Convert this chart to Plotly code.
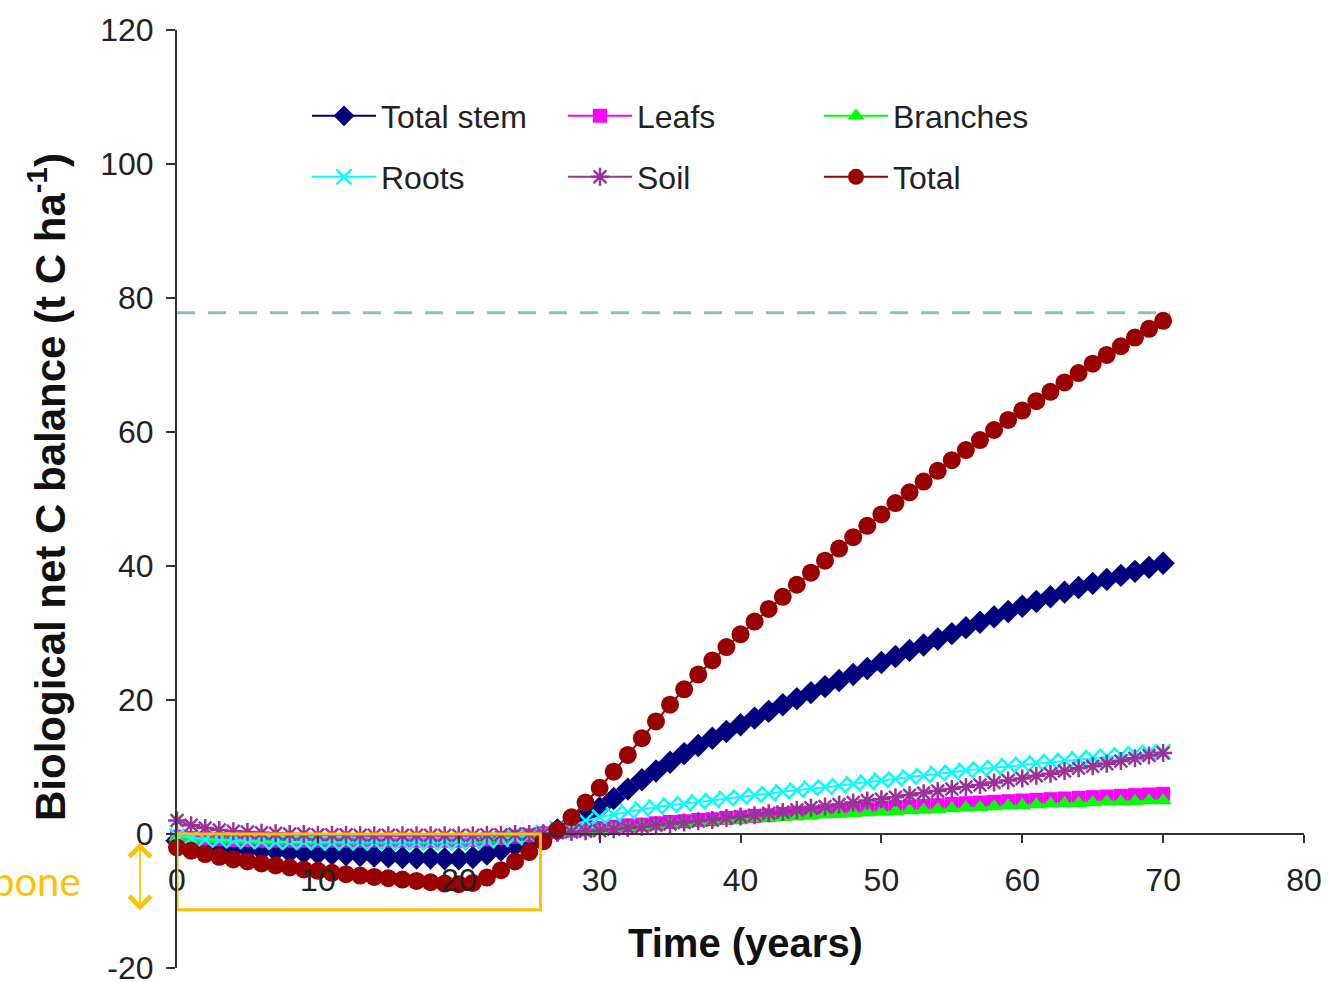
import plotly.graph_objects as go

# Years of the simulation (annual steps)
years = list(range(0, 71))

total_stem = [
    -1.0, -1.3, -1.6, -1.8, -2.0, -2.2, -2.4, -2.5, -2.7, -2.8,
    -2.9, -3.0, -3.1, -3.2, -3.3, -3.4, -3.5, -3.6, -3.6, -3.7,
    -3.7, -3.5, -3.0, -2.4, -1.7, -1.0, -0.3, 0.6, 1.6, 2.7,
    3.9, 5.3, 6.7, 8.1, 9.4, 10.7, 12.0, 13.2, 14.3, 15.3,
    16.3, 17.3, 18.3, 19.3, 20.2, 21.1, 22.0, 22.9, 23.8, 24.7,
    25.6, 26.5, 27.4, 28.2, 29.1, 29.9, 30.8, 31.6, 32.4, 33.2,
    34.0, 34.7, 35.4, 36.1, 36.8, 37.4, 38.0, 38.6, 39.2, 39.8,
    40.4,
]

leafs = [
    -0.4, -0.6, -0.7, -0.8, -0.9, -0.9, -1.0, -1.0, -1.0, -1.0,
    -1.0, -1.0, -1.0, -1.0, -1.0, -1.0, -1.0, -1.0, -1.0, -1.0,
    -1.0, -0.9, -0.8, -0.6, -0.4, -0.2, 0.1, 0.3, 0.5, 0.7,
    0.9, 1.1, 1.3, 1.4, 1.6, 1.8, 1.9, 2.1, 2.2, 2.4,
    2.5, 2.7, 2.8, 3.0, 3.1, 3.2, 3.4, 3.5, 3.6, 3.7,
    3.9, 4.0, 4.1, 4.2, 4.3, 4.5, 4.6, 4.7, 4.8, 4.9,
    5.0, 5.1, 5.2, 5.3, 5.4, 5.5, 5.6, 5.7, 5.8, 5.9,
    6.0,
]

branches = [
    -0.4, -0.6, -0.7, -0.8, -0.9, -0.9, -1.0, -1.0, -1.0, -1.0,
    -1.0, -1.0, -1.0, -1.0, -1.0, -1.0, -1.0, -1.0, -1.0, -1.0,
    -1.0, -0.9, -0.8, -0.6, -0.5, -0.3, -0.1, 0.1, 0.3, 0.5,
    0.7, 0.9, 1.0, 1.2, 1.3, 1.5, 1.6, 1.7, 1.9, 2.0,
    2.1, 2.3, 2.4, 2.5, 2.6, 2.8, 2.9, 3.0, 3.1, 3.2,
    3.3, 3.4, 3.5, 3.6, 3.7, 3.8, 3.9, 4.0, 4.1, 4.2,
    4.3, 4.4, 4.5, 4.6, 4.6, 4.7, 4.8, 4.8, 4.9, 5.0,
    5.0,
]

roots = [
    -0.3, -0.6, -0.8, -0.9, -1.0, -1.1, -1.1, -1.2, -1.2, -1.2,
    -1.3, -1.3, -1.3, -1.3, -1.3, -1.3, -1.3, -1.3, -1.3, -1.3,
    -1.3, -1.2, -1.0, -0.8, -0.5, -0.2, 0.2, 0.8, 1.4, 2.0,
    2.5, 2.9, 3.3, 3.7, 4.0, 4.3, 4.5, 4.8, 5.0, 5.3,
    5.5, 5.8, 6.0, 6.3, 6.5, 6.8, 7.0, 7.2, 7.5, 7.7,
    8.0, 8.2, 8.5, 8.7, 9.0, 9.2, 9.5, 9.7, 9.9, 10.2,
    10.4, 10.6, 10.8, 11.0, 11.2, 11.4, 11.6, 11.8, 12.0, 12.2,
    12.3,
]

soil = [
    2.0, 1.3, 0.9, 0.6, 0.4, 0.3, 0.2, 0.1, 0.0, 0.0,
    -0.1, -0.1, -0.1, -0.2, -0.2, -0.2, -0.2, -0.2, -0.2, -0.2,
    -0.2, -0.2, -0.1, -0.1, 0.0, 0.0, 0.1, 0.2, 0.3, 0.4,
    0.5, 0.7, 0.9, 1.1, 1.3, 1.5, 1.7, 1.9, 2.1, 2.4,
    2.6, 2.8, 3.1, 3.3, 3.6, 3.9, 4.1, 4.4, 4.7, 5.0,
    5.2, 5.5, 5.8, 6.1, 6.4, 6.7, 7.0, 7.3, 7.7, 8.0,
    8.3, 8.7, 9.0, 9.4, 9.8, 10.1, 10.5, 10.9, 11.3, 11.7,
    12.1,
]

total = [
    -2.0, -2.5, -3.0, -3.4, -3.8, -4.1, -4.4, -4.7, -5.0, -5.3,
    -5.5, -5.8, -6.0, -6.2, -6.4, -6.6, -6.8, -7.0, -7.2, -7.4,
    -7.5, -7.3, -6.5, -5.4, -4.1, -2.7, -1.1, 0.6, 2.5, 4.7,
    6.9, 9.3, 11.8, 14.3, 16.8, 19.3, 21.6, 23.8, 25.9, 27.9,
    29.8, 31.7, 33.6, 35.4, 37.2, 39.0, 40.8, 42.6, 44.3, 46.0,
    47.7, 49.4, 51.0, 52.6, 54.2, 55.8, 57.3, 58.8, 60.3, 61.8,
    63.2, 64.6, 66.0, 67.4, 68.8, 70.2, 71.5, 72.8, 74.1, 75.4,
    76.6,
]

# Horizontal reference level (dashed) and the highlighted early-deficit window
reference_level = 77.8
reference_end_year = 70.5
deficit_box_years = (0, 25.8)
deficit_box_values = (0, -11.3)

x_ticks = [0, 10, 20, 30, 40, 50, 60, 70, 80]
y_ticks = [-20, 0, 20, 40, 60, 80, 100, 120]
y_tick_labels = [str(v) for v in y_ticks]

FONT = "Arial, Liberation Sans, sans-serif"
ORANGE = "#FFC000"

series = [
    ("Total stem", total_stem, "#00007F", dict(symbol="diamond", size=18), "legend"),
    ("Leafs", leafs, "#FF00FF", dict(symbol="square", size=14), "legend"),
    ("Branches", branches, "#00FF00", dict(symbol="triangle-up", size=15), "legend"),
    ("Roots", roots, "#00FFFF", dict(symbol="x-thin", size=15, line=dict(width=2.5, color="#00FFFF")), "legend2"),
    ("Soil", soil, "#993399", dict(symbol="asterisk", size=15, line=dict(width=2.5, color="#993399")), "legend2"),
    ("Total", total, "#990000", dict(symbol="circle", size=18), "legend2"),
]

fig = go.Figure()
for name, values, color, marker, legend_id in series:
    marker = dict(marker)
    marker.setdefault("color", color)
    fig.add_trace(go.Scatter(
        x=years, y=values, name=name, mode="lines+markers",
        line=dict(color=color, width=2),
        marker=marker,
        legend=legend_id,
        cliponaxis=False,
    ))

# Dashed reference line
fig.add_shape(type="line", xref="x", yref="y",
              x0=0, x1=reference_end_year, y0=reference_level, y1=reference_level,
              line=dict(color="#93BDBD", width=3, dash="18px,13px"), layer="below")

# Highlight box around the initial deficit period
fig.add_shape(type="rect", xref="x", yref="y",
              x0=deficit_box_years[0], x1=deficit_box_years[1],
              y0=deficit_box_values[0], y1=deficit_box_values[1],
              line=dict(color=ORANGE, width=3))

annotations = [
    dict(text="Biological net C balance (t C ha<sup>-1</sup>)", textangle=-90,
         xref="paper", yref="paper", x=(47 - 177) / 1127, y=(968 - 487) / 938,
         xanchor="center", yanchor="middle", showarrow=False,
         font=dict(family=FONT, size=42, color="#111111", weight="bold")),
    dict(text="Time (years)", xref="paper", yref="paper",
         x=(745 - 177) / 1127, y=(968 - 943) / 938, xanchor="center", yanchor="middle",
         showarrow=False,
         font=dict(family=FONT, size=40, color="#111111", weight="bold")),
    dict(text="bone", xref="paper", yref="y", x=(83 - 177) / 1127, y=-7.0,
         xanchor="right", yanchor="middle", showarrow=False,
         font=dict(family="Lato, Noto Sans, sans-serif", size=40, color=ORANGE)),
    dict(text="", xref="paper", yref="y", x=(140 - 177) / 1127, y=-1.3,
         axref="pixel", ayref="y", ax=0, ay=-11.6,
         showarrow=True, arrowside="end+start", arrowhead=4, arrowsize=2.3,
         arrowwidth=1.8, arrowcolor=ORANGE),
]

legend_common = dict(
    orientation="h", x=(307 - 177) / 1127,
    xanchor="left", yanchor="middle", bgcolor="rgba(0,0,0,0)",
    font=dict(family=FONT, size=32, color="#222222"),
    itemwidth=64, entrywidth=177, entrywidthmode="pixels",
)

fig.update_layout(
    width=1332, height=982,
    margin=dict(l=177, r=28, t=30, b=14, autoexpand=False),
    paper_bgcolor="white", plot_bgcolor="white",
    font=dict(family=FONT, color="#222222"),
    annotations=annotations,
    xaxis=dict(
        range=[0, 80], tickvals=x_ticks, ticks="outside", ticklen=8, tickwidth=2,
        tickcolor="#333333", showline=True, linecolor="#333333", linewidth=2,
        showgrid=False, zeroline=False, anchor="free", position=20 / 140,
        tickfont=dict(family=FONT, size=32, color="#222222"), ticklabelstandoff=10,
        ticklabeloverflow="allow", automargin=False,
    ),
    yaxis=dict(
        range=[-20, 120], tickvals=y_ticks, ticktext=y_tick_labels,
        ticks="outside", ticklen=9, tickwidth=2,
        tickcolor="#333333", showline=True, linecolor="#333333", linewidth=2,
        showgrid=False, zeroline=False,
        tickfont=dict(family=FONT, size=32, color="#222222"), ticklabelstandoff=6,
        ticklabeloverflow="allow", automargin=False,
    ),
    legend=dict(legend_common, y=1 - (116 - 30) / 938),
    legend2=dict(legend_common, y=1 - (177 - 30) / 938),
)

fig.write_html("out.html")
